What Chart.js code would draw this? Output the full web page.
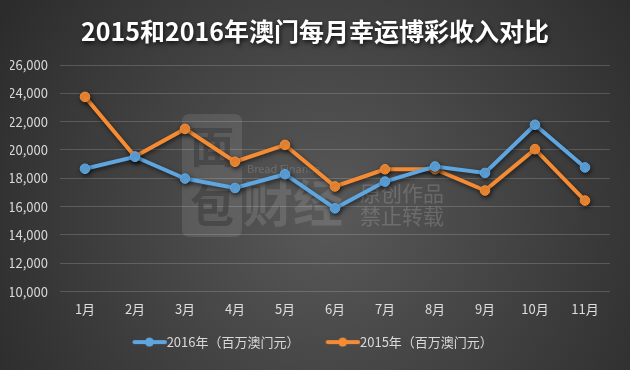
<!DOCTYPE html>
<html>
<head>
<meta charset="utf-8">
<script src="https://cdn.jsdelivr.net/npm/chart.js@4/dist/chart.umd.min.js"></script>
<style>
  html, body { margin: 0; padding: 0; background: #3a3a3a; }
  #wrap { width: 630px; height: 370px; position: relative; }
</style>
</head>
<body>
<div id="wrap"><canvas id="c" width="630" height="370"></canvas></div>
<script>
const months = ['1月','2月','3月','4月','5月','6月','7月','8月','9月','10月','11月'];
const rev2016 = [18674, 19521, 17981, 17315, 18289, 15878, 17768, 18836, 18378, 21779, 18767];
const rev2015 = [23748, 19537, 21487, 19169, 20358, 17424, 18637, 18644, 17137, 20060, 16429];
const seriesNames = ['2016年（百万澳门元）', '2015年（百万澳门元）'];
const titleText = '2015和2016年澳门每月幸运博彩收入对比';
const yMin = 10000, yMax = 26000, yStep = 2000;

const BLUE = '#5fa6e0';
const ORANGE = '#f58c34';
const FONT = '"Noto Sans CJK SC", "Noto Sans", sans-serif';

function legendImage(color) {
  const m = 8.5, W = 42.5, H = 12;
  const c = document.createElement('canvas');
  c.width = Math.round(W); c.height = H;
  const g = c.getContext('2d');
  g.strokeStyle = color; g.lineWidth = 4; g.lineCap = 'round';
  g.beginPath(); g.moveTo(m + 2, H / 2); g.lineTo(c.width - 2, H / 2); g.stroke();
  g.fillStyle = color;
  g.beginPath(); g.arc(m + 17, H / 2, 4.5, 0, Math.PI * 2); g.fill();
  return c;
}
const legendImgs = [legendImage(BLUE), legendImage(ORANGE)];

const bgPlugin = {
  id: 'bg',
  beforeDraw(chart) {
    const ctx = chart.ctx, w = chart.width, h = chart.height;
    ctx.save();
    const g = ctx.createRadialGradient(w * 0.52, h * 0.58, 10, w * 0.52, h * 0.58, 380);
    g.addColorStop(0, '#585858');
    g.addColorStop(1, '#2c2c2c');
    ctx.fillStyle = g;
    ctx.fillRect(0, 0, w, h);
    ctx.restore();
    const tb = chart.titleBlock;
    if (tb && !tb._shadowWrapped) {
      const orig = tb.draw.bind(tb);
      tb.draw = function (area) {
        const c = chart.ctx;
        c.save();
        c.shadowColor = 'rgba(0,0,0,0.75)';
        c.shadowBlur = 4;
        c.shadowOffsetX = 1;
        c.shadowOffsetY = 2;
        orig(area);
        c.restore();
      };
      tb._shadowWrapped = true;
    }
  }
};

const watermarkPlugin = {
  id: 'watermark',
  beforeDatasetsDraw(chart) {
    const ctx = chart.ctx;
    ctx.save();
    ctx.fillStyle = 'rgba(255,255,255,0.10)';
    const x = 182, y = 114, w = 60, h = 123, r = 8;
    ctx.beginPath();
    ctx.moveTo(x + r, y); ctx.lineTo(x + w - r, y); ctx.quadraticCurveTo(x + w, y, x + w, y + r);
    ctx.lineTo(x + w, y + h - r); ctx.quadraticCurveTo(x + w, y + h, x + w - r, y + h);
    ctx.lineTo(x + r, y + h); ctx.quadraticCurveTo(x, y + h, x, y + h - r);
    ctx.lineTo(x, y + r); ctx.quadraticCurveTo(x, y, x + r, y);
    ctx.fill();
    ctx.fillStyle = 'rgba(60,60,60,0.6)';
    ctx.font = 'bold 44px ' + FONT;
    ctx.textAlign = 'center'; ctx.textBaseline = 'middle';
    ctx.fillText('面', x + w / 2, y + 32);
    ctx.fillText('包', x + w / 2, y + 92);
    ctx.fillStyle = 'rgba(255,255,255,0.12)';
    ctx.font = 'bold 50px ' + FONT;
    ctx.textAlign = 'left';
    ctx.fillText('财经', 243, 203);
    ctx.fillStyle = 'rgba(255,255,255,0.16)';
    ctx.font = '11px ' + FONT;
    ctx.fillText('Bread Finance', 247, 169);
    ctx.font = '21px ' + FONT;
    ctx.fillText('原创作品', 360, 193);
    ctx.fillText('禁止转载', 360, 216);
    ctx.restore();
  }
};

const shadowPlugin = {
  id: 'lineShadow',
  beforeDatasetsDraw(chart) {
    const ctx = chart.ctx;
    ctx.save();
    ctx.shadowColor = 'rgba(0,0,0,0.55)';
    ctx.shadowBlur = 4;
    ctx.shadowOffsetX = 1;
    ctx.shadowOffsetY = 2;
  },
  afterDatasetsDraw(chart) {
    chart.ctx.restore();
  }
};

new Chart(document.getElementById('c'), {
  type: 'line',
  data: {
    labels: months,
    datasets: [
      {
        label: seriesNames[0], data: rev2016,
        borderColor: BLUE, backgroundColor: BLUE,
        borderWidth: 4, pointRadius: 4.8, pointBorderWidth: 1,
        pointBackgroundColor: BLUE, pointBorderColor: BLUE, tension: 0
      },
      {
        label: seriesNames[1], data: rev2015,
        borderColor: ORANGE, backgroundColor: ORANGE,
        borderWidth: 4, pointRadius: 4.8, pointBorderWidth: 1,
        pointBackgroundColor: ORANGE, pointBorderColor: ORANGE, tension: 0
      }
    ]
  },
  options: {
    responsive: false,
    animation: false,
    devicePixelRatio: 1,
    layout: { padding: { left: 10, right: 10, top: 0, bottom: 11.4 } },
    plugins: {
      title: {
        display: true, text: titleText, color: '#ffffff',
        font: { family: FONT, size: 25, weight: 'bold', lineHeight: 1.2 },
        padding: { top: 16, bottom: 19 }
      },
      legend: {
        display: true, position: 'bottom',
        labels: {
          usePointStyle: true, pointStyleWidth: 29.5, boxHeight: 13,
          padding: 18, color: '#d9d9d9',
          font: { family: FONT, size: 13 },
          generateLabels(chart) {
            const items = Chart.defaults.plugins.legend.labels.generateLabels(chart);
            items.forEach((it, i) => { it.pointStyle = legendImgs[i]; it.text = it.text + '\u3000'; it.fontColor = '#d9d9d9'; });
            return items;
          }
        }
      },
      tooltip: { enabled: false }
    },
    scales: {
      x: {
        offset: true,
        grid: { display: false, drawTicks: false },
        border: { display: false },
        ticks: { color: '#dedede', padding: 10, maxRotation: 0, font: { family: FONT, size: 13 } },
        afterFit(s) { s.height = 26; }
      },
      y: {
        min: yMin, max: yMax,
        grid: { color: 'rgba(255,255,255,0.17)', lineWidth: 1, drawTicks: false },
        border: { display: false },
        ticks: {
          stepSize: yStep, color: '#d9d9d9', padding: 12,
          font: { family: FONT, size: 13 },
          callback: v => v.toLocaleString('en-US')
        },
        afterFit(s) { s.width = 50; }
      },
      y2: {
        position: 'right', display: true,
        grid: { display: false, drawTicks: false },
        border: { display: false },
        ticks: { display: false },
        afterFit(s) { s.width = 10; }
      }
    }
  },
  plugins: [bgPlugin, watermarkPlugin, shadowPlugin]
});
</script>
</body>
</html>
